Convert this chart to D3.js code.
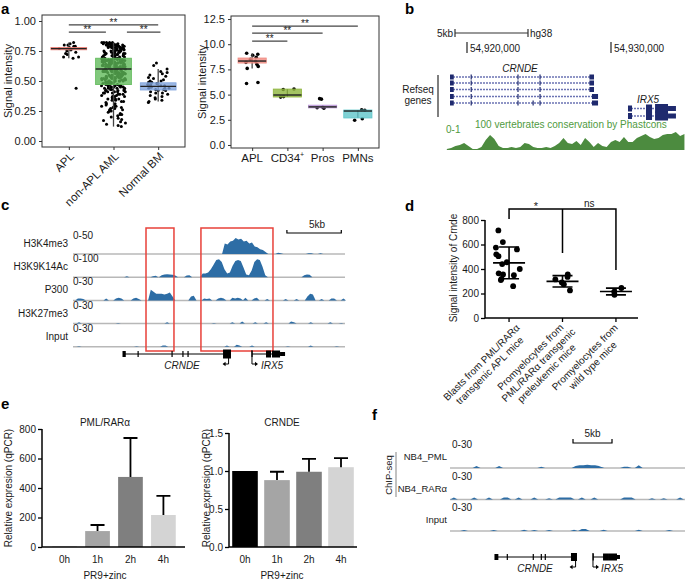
<!DOCTYPE html>
<html>
<head>
<meta charset="utf-8">
<script src="https://cdn.jsdelivr.net/npm/d3@7/dist/d3.min.js"></script>
<style>
html,body{margin:0;padding:0;background:#fff;}
svg{display:block;font-family:"Liberation Sans",Arial,Helvetica,sans-serif;}
</style>
</head>
<body>
<svg id="fig" width="685" height="583"></svg>
<script>
// ================= DATA =================
// ---- Panel a (left)
const aLeftCats = ["APL","non-APL AML","Normal BM"];
const aLeftAPL = [0.82,0.81,0.80,0.80,0.79,0.79,0.78,0.78,0.77,0.77,0.76,0.76,0.75,0.74,0.73,0.72,0.70,0.70,0.69,0.44];
const aLeftNonAPL = [
0.81,0.79,0.82,0.76,0.73,0.80,0.71,0.78,0.75,0.81,0.72,0.77,0.80,0.74,0.79,0.70,0.82,0.76,0.78,0.73,0.81,0.75,0.71,0.79,0.77,
0.80,0.72,0.74,0.78,0.82,0.76,0.70,0.81,0.73,0.79,0.75,0.77,0.80,0.71,0.78,0.74,0.82,0.76,0.72,0.79,0.81,0.73,0.77,0.70,0.80,
0.75,0.78,0.74,0.81,0.72,0.79,0.76,0.82,0.71,0.77,0.80,0.73,0.78,0.75,0.81,0.70,0.79,0.74,0.76,0.80,0.72,0.78,0.77,0.81,0.73,
0.69,0.64,0.61,0.67,0.63,0.68,0.60,0.66,0.62,0.65,0.69,0.61,0.67,0.64,0.68,0.62,0.66,0.60,0.65,0.63,0.69,0.67,0.61,0.64,0.68,
0.62,0.66,0.63,0.60,0.65,0.69,0.64,0.67,0.61,0.68,0.63,0.66,0.62,0.65,0.60,0.69,0.64,0.67,0.61,0.68,0.62,0.66,0.63,0.65,0.60,
0.69,0.64,0.67,0.61,0.68,0.63,0.66,0.62,0.65,0.60,0.69,0.64,0.67,0.61,0.68,0.62,0.66,0.63,0.65,0.64,0.67,0.61,0.69,0.62,0.66,
0.59,0.53,0.49,0.56,0.51,0.58,0.47,0.55,0.52,0.57,0.50,0.54,0.48,0.59,0.56,0.52,0.58,0.49,0.55,0.51,0.57,0.53,0.48,0.59,0.54,
0.50,0.56,0.52,0.58,0.47,0.55,0.51,0.57,0.53,0.49,0.59,0.54,0.50,0.56,0.52,0.58,0.48,0.55,0.51,0.57,0.53,0.49,0.59,0.54,0.50,
0.56,0.52,0.58,0.47,0.55,0.51,0.57,0.53,0.48,0.59,0.54,0.50,0.56,0.52,0.58,0.49,0.55,0.51,0.57,0.53,0.50,0.54,0.56,0.52,0.58,
0.46,0.41,0.37,0.44,0.33,0.45,0.39,0.42,0.35,0.46,0.40,0.31,0.43,0.38,0.45,0.34,0.41,0.46,0.36,0.44,0.39,0.32,0.42,0.45,0.37,
0.40,0.46,0.35,0.43,0.30,0.41,0.44,0.38,0.45,0.33,0.42,0.46,0.36,0.40,0.43,0.34,0.39,0.45,0.31,0.44,0.37,0.41,0.46,0.35,0.42,
0.29,0.26,0.22,0.28,0.19,0.25,0.14,0.27,0.21,0.29,0.17,0.24,0.12,0.28,0.20,0.26,0.15,0.23,0.29,0.18,0.13,0.25,0.27,0.16,0.22];
const aLeftNormal = [0.65,0.63,0.60,0.58,0.57,0.56,0.55,0.54,0.53,0.52,0.51,0.50,0.50,0.49,0.49,0.48,0.48,0.47,0.47,0.46,0.46,0.46,
0.45,0.45,0.45,0.44,0.44,0.44,0.43,0.43,0.42,0.42,0.41,0.40,0.40,0.39,0.38,0.37,0.36,0.35,0.34,0.33,0.32];
const aLeftQ1 = [0.76,0.47,0.425];
const aLeftMed = [0.77,0.60,0.455];
const aLeftQ3 = [0.78,0.69,0.485];
const aLeftLo = [0.69,0.12,0.33];
const aLeftHi = [0.82,0.82,0.60];
const aLeftColors = ["#ec7b71","#5db957","#7fa3dd"];
const aLeftTicks = [0,0.25,0.5,0.75,1.0];
const aLeftSig = [[0,2,0.967],[0,0.83,0.908],[1.3,2.05,0.908]];

// ---- Panel a (right)
const aRightCats = ["APL","CD34","Pros","PMNs"];
const aRightAPL = [9.1,9.0,8.9,8.7,8.5,8.3,8.2,8.0,7.8,7.6,6.2,6.1];
const aRightCD34 = [5.55,5.5,4.8,4.75];
const aRightPros = [4.6,4.55,3.75,3.7,3.65];
const aRightPMNs = [3.5,3.45,2.6,2.45];
const aRightQ1 = [8.13,4.76,3.68,2.68];
const aRightMed = [8.33,4.96,3.78,3.37];
const aRightQ3 = [8.63,5.55,3.95,3.47];
const aRightLo = [7.6,4.76,3.68,2.68];
const aRightHi = [9.1,5.55,3.95,3.47];
const aRightColors = ["#f08a80","#8db53c","#b893d6","#5fc6c9"];
const aRightTicks = [0,2.5,5,7.5,10,12.5];
const aRightSig = [[0,3,11.8],[0,2,11.1],[0,1,10.3]];

// ---- Panel b (genomic kb relative to 54,920,000)
const bCoordTicks = [0,10];
const bCoordLabels = ["54,920,000","54,930,000"];
const bCrndeTranscripts = [
  [[-1.18,-0.92],[0.25,0.32],[3.5,3.57],[5.03,5.1],[8.5,8.82]],
  [[-1.18,-0.92],[0.25,0.32],[3.5,3.57],[5.03,5.1],[8.5,8.82]],
  [[-1.18,-0.92],[0.25,0.32],[3.5,3.57],[5.03,5.1],[8.5,8.82]],
  [[-1.18,-0.92],[0.25,0.32],[3.5,3.57],[5.03,5.1],[8.68,9.1]],
  [[-1.18,-0.92],[0.25,0.32],[3.5,3.57],[4.55,4.62],[5.03,5.1],[8.68,9.1]]];
const bIrx5Exons = [[11.18,11.46,6],[12.43,12.85,8],[13.06,13.96,9],[13.96,14.51,5]];
const bConsStart = -1.4, bConsStep = 0.3;
const bConservation = [0.05,0.1,0.2,0.25,0.35,0.2,0.05,0.05,0.15,0.5,0.75,0.55,0.2,0.1,0.1,0.15,0.1,0.15,0.35,0.3,
0.15,0.1,0.1,0.15,0.1,0.2,0.35,0.6,0.35,0.3,0.45,0.25,0.6,0.4,0.15,0.35,0.2,0.15,0.4,0.5,
0.4,0.65,0.4,0.4,0.6,0.7,0.8,0.65,0.55,0.6,0.75,0.8,0.8,0.9,0.7,0.8];

// ---- Panel c (kb, 0.25 kb steps)
const cTrackNames = ["H3K4me3","H3K9K14Ac","P300","H3K27me3","Input"];
const cTrackScales = ["0-50","0-100","0-30","0-30","0-30"];
const cTrackMax = [50,100,30,30,30];
const cH3K4me3 = [[13.7,[0,26,24,31,33,40,36,38,31,33,26,29,19,17,12,10,5,0]],[18.6,[0,3,2,0]],[21.4,[0,2,2,0]],[22.5,[0,2,0]]];
const cH3K9K14Ac = [[4.7,[0,5,0]],[7.1,[0,5,7,0]],[7.9,[0,10,14,15,14,12,8,0]],[10.2,[0,8,10,0]],
  [11.67,[0,19,19,24,40,62,86,90,76,40,19,24,57,81,86,81,48,14,10,33,76,90,86,52,10,0]],[21.0,[0,10,14,12,0]]];
const cP300 = [[0.2,[0,3,3,2,0]],[2.8,[0,3,0]],[3.7,[0,3,4,3,0]],[5.3,[0,3,4,2,0]],[6.9,[0,16,13,10,10,10,9,10,12,6,0]],
  [10.6,[0,6,7,0]],[11.8,[0,3,2,3,0]],[13.1,[0,3,4,3,0]],[14.4,[0,4,3,4,3,0]],[15.6,[0,4,0]],[16.4,[0,3,4,0]],
  [17.6,[0,2,0]],[19.3,[0,2,0]],[20.3,[0,2,0]],[21.3,[0,6,10,9,0]],[22.6,[0,2,0]],[23.5,[0,3,3,0]],[24.6,[0,3,0]]];
const cH3K27me3 = [[0.3,[0,2,0]],[1.2,[0,1,0]],[3.9,[0,1,0]],[8.4,[0,2,0]],[12.7,[0,1,0]],[14.4,[0,2,0]],[15.3,[0,3,0]],
  [16.5,[0,2,0]],[17.5,[0,2,0]],[19.8,[0,3,2,0]],[21.6,[0,2,0]],[23.4,[0,2,0]],[24.4,[0,1,0]]];
const cInput = [[0.3,[0,1,0]],[5.6,[0,1,0]],[8.0,[0,2,2,0]],[13.9,[0,2,0]],[14.8,[0,3,2,0]],[16.2,[0,2,0]],[19.5,[0,1,0]],[21.6,[0,2,0]],[24.0,[0,1,0]]];
const cRedBoxes = [[6.71,9.28],[11.76,18.38]];
const cScaleBar = [19.66,24.66];
const cCrndeExons = [[4.55,4.85,6],[5.93,6.02,6],[9.05,9.14,6],[10.05,10.14,6],[10.52,10.61,6],[13.79,14.52,9]];
const cCrndeSpan = [4.6,14.5];
const cIrx5Exons = [[16.4,16.5,6],[17.74,18.2,7],[18.29,19.03,7],[19.03,19.49,4]];
const cIrx5Span = [16.45,19.49];

// ---- Panel d
const dCats = [["Blasts from PML/RARα","transgenic APL mice"],["Promyelocytes from","PML/RARα transgenic","preleukemic mice"],["Promyelocytes from","wild type mice"]];
const dGroup1 = [715,620,575,560,520,505,455,440,400,365,355,350,320,310,260];
const dGroup2 = [355,335,315,290,275,225];
const dGroup3 = [245,215,190];
const dTicks = [0,200,400,600,800];
const dBracketTop = 890;
const dBracketLegs = [808,530,392];

// ---- Panel e
const eCats = ["0h","1h","2h","4h"];
const eColors = ["#000000","#a5a5a5","#7f7f7f","#d4d4d4"];
const ePMLVals = [1,108,475,217];
const ePMLSD = [0,41,264,129];
const ePMLTicks = [0,200,400,600,800];
const eCRNDEVals = [1.0,0.88,0.99,1.05];
const eCRNDESD = [0,0.11,0.17,0.12];
const eCRNDETicks = [0,0.5,1.0,1.5];

// ---- Panel f (kb, 0.5 kb steps)
const fTrackNames = ["NB4_PML","NB4_RARα","Input"];
const fPML = [[2.9,[0,3,0]],[5.8,[0,3,0]],[11.2,[0,2,0]],[15.6,[0,3,4,4,5,4,4,3,0]],[18.8,[0,2,0]],[21.8,[0,2,2,0]],[23.7,[0,4,0]]];
const fRARa = [[0.0,[0,3,0]],[2.6,[0,3,0]],[4.5,[0,3,0]],[6.4,[0,3,3,0]],[8.3,[0,3,0]],[10.3,[0,3,0]],[12.2,[0,2,0]],
  [13.5,[0,3,3,3,3,0]],[16.4,[0,3,0]],[18.0,[0,3,0]],[21.8,[0,3,3,3,0]],[25.4,[0,2,0]],[26.9,[0,2,0]],[29.0,[0,3,0]]];
const fInput = [[1.3,[0,1.5,0]],[5.1,[0,1.5,0]],[9.0,[0,2,0]],[10.3,[0,1.5,0]],[12.2,[0,1.5,0]],[15.4,[0,2,0]],[16.4,[0,3,3,0]],[19.2,[0,2,0]],[23.7,[0,2,0]],[27.6,[0,1.5,0]]];
const fScaleBar = [15.77,20.77];
const fCrndeExons = [[5.7,6.2,6],[7.27,7.37,6],[10.6,10.7,6],[11.63,11.73,6],[12.14,12.24,6],[15.51,16.28,8]];
const fCrndeSpan = [5.77,16.2];
const fIrx5Exons = [[18.28,18.4,7],[19.62,20.26,7],[20.26,21.41,7],[21.41,21.79,4]];
const fIrx5Span = [18.33,21.79];

// ================= DRAW =================
const svg = d3.select("#fig");
const TXT = "#1a1a1a";
function jit(i, seed){ const v = Math.sin((i+1)*12.9898 + seed*78.233)*43758.5453; return (v - Math.floor(v)) - 0.5; }
function label(t,x,y){ svg.append("text").attr("x",x).attr("y",y).attr("font-size",15).attr("font-weight","bold").attr("fill","#000").text(t); }
function styleAxis(g, fs){ g.select(".domain").remove(); g.selectAll("text").attr("font-size",fs).attr("fill",TXT).attr("font-family",null); g.selectAll("line").attr("stroke","#333"); g.attr("font-family",null); }

label("a",1,14); label("b",405,14); label("c",1,210); label("d",405,211); label("e",1,409); label("f",372,420);

// ---------- Panel a left
(function(){
  const L=42,R=185,T=15,B=147;
  const g = svg.append("g");
  const x = d3.scalePoint().domain(aLeftCats).range([L,R]).padding(0.6);
  const y = d3.scaleLinear().domain([-0.05,1.05]).range([B,T]);
  const st = x.step(), bw = st*0.8;
  g.append("g").attr("transform",`translate(${L},0)`).call(d3.axisLeft(y).tickValues(aLeftTicks).tickFormat(d3.format(".2f")).tickSize(3).tickPadding(3)).call(s=>styleAxis(s,11));
  g.append("g").attr("transform",`translate(0,${B})`).call(d3.axisBottom(x).tickSize(3).tickFormat("")).call(s=>styleAxis(s,11));
  const groups = [aLeftAPL,aLeftNonAPL,aLeftNormal];
  const jw = [20,24,22];
  groups.forEach((arr,gi)=>{
    const cx = x(aLeftCats[gi]);
    g.append("g").selectAll("circle").data(arr).join("circle")
      .attr("cx",(d,i)=>cx + jit(i,gi+1)*jw[gi]).attr("cy",d=>y(d)).attr("r",1.5).attr("fill","#000");
    g.append("line").attr("x1",cx).attr("x2",cx).attr("y1",y(aLeftLo[gi])).attr("y2",y(aLeftHi[gi])).attr("stroke","#444").attr("stroke-width",1.3);
    g.append("rect").attr("x",cx-bw/2).attr("width",bw).attr("y",y(aLeftQ3[gi])).attr("height",y(aLeftQ1[gi])-y(aLeftQ3[gi]))
      .attr("fill",aLeftColors[gi]).attr("fill-opacity",0.78).attr("stroke",aLeftColors[gi]).attr("stroke-width",0.8);
    g.append("line").attr("x1",cx-bw/2).attr("x2",cx+bw/2).attr("y1",y(aLeftMed[gi])).attr("y2",y(aLeftMed[gi])).attr("stroke","#222").attr("stroke-width",1.4);
  });
  g.append("rect").attr("x",L).attr("y",T).attr("width",R-L).attr("height",B-T).attr("fill","none").attr("stroke","#333").attr("stroke-width",1);
  aLeftSig.forEach(s=>{
    const x1 = x(aLeftCats[0])+s[0]*st, x2 = x(aLeftCats[0])+s[1]*st, yy=y(s[2]);
    g.append("line").attr("x1",x1).attr("x2",x2).attr("y1",yy).attr("y2",yy).attr("stroke","#444").attr("stroke-width",1.3);
    g.append("text").attr("x",(x1+x2)/2).attr("y",yy+1).attr("text-anchor","middle").attr("font-size",10).attr("fill","#222").text("**");
  });
  aLeftCats.forEach(c=>{
    g.append("text").attr("transform",`translate(${x(c)+6},${B+10}) rotate(-45)`).attr("text-anchor","end").attr("font-size",11.5).attr("fill",TXT).text(c);
  });
  g.append("text").attr("transform",`translate(12,${(T+B)/2}) rotate(-90)`).attr("text-anchor","middle").attr("font-size",11).attr("fill",TXT).text("Signal intensity");
})();

// ---------- Panel a right
(function(){
  const L=231,R=379,T=16,B=148;
  const g = svg.append("g");
  const x = d3.scalePoint().domain(aRightCats).range([L,R]).padding(0.6);
  const y = d3.scaleLinear().domain([-0.3,12.8]).range([B,T]);
  const st = x.step(), bw = st*0.8;
  g.append("g").attr("transform",`translate(${L},0)`).call(d3.axisLeft(y).tickValues(aRightTicks).tickFormat(d3.format(".1f")).tickSize(3).tickPadding(3)).call(s=>styleAxis(s,11));
  g.append("g").attr("transform",`translate(0,${B})`).call(d3.axisBottom(x).tickSize(3).tickFormat("")).call(s=>styleAxis(s,11));
  const groups = [aRightAPL,aRightCD34,aRightPros,aRightPMNs];
  groups.forEach((arr,gi)=>{
    const cx = x(aRightCats[gi]);
    g.append("g").selectAll("circle").data(arr).join("circle")
      .attr("cx",(d,i)=>cx + jit(i,gi+7)*14).attr("cy",d=>y(d)).attr("r",1.8).attr("fill","#000");
    g.append("line").attr("x1",cx).attr("x2",cx).attr("y1",y(aRightLo[gi])).attr("y2",y(aRightHi[gi])).attr("stroke","#444").attr("stroke-width",1.3);
    g.append("rect").attr("x",cx-bw/2).attr("width",bw).attr("y",y(aRightQ3[gi])).attr("height",y(aRightQ1[gi])-y(aRightQ3[gi]))
      .attr("fill",aRightColors[gi]).attr("fill-opacity",0.8).attr("stroke",aRightColors[gi]).attr("stroke-width",0.8);
    g.append("line").attr("x1",cx-bw/2).attr("x2",cx+bw/2).attr("y1",y(aRightMed[gi])).attr("y2",y(aRightMed[gi])).attr("stroke","#222").attr("stroke-width",1.4);
  });
  g.append("rect").attr("x",L).attr("y",T).attr("width",R-L).attr("height",B-T).attr("fill","none").attr("stroke","#333").attr("stroke-width",1);
  aRightSig.forEach(s=>{
    const x1 = x(aRightCats[0])+s[0]*st, x2 = x(aRightCats[0])+s[1]*st, yy=y(s[2]);
    g.append("line").attr("x1",x1).attr("x2",x2).attr("y1",yy).attr("y2",yy).attr("stroke","#444").attr("stroke-width",1.3);
    g.append("text").attr("x",(x1+x2)/2).attr("y",yy+1).attr("text-anchor","middle").attr("font-size",10).attr("fill","#222").text("**");
  });
  aRightCats.forEach((c,i)=>{
    const t = g.append("text").attr("x",x(c)).attr("y",B+14).attr("text-anchor","middle").attr("font-size",11.5).attr("fill",TXT).text(c);
    if(c==="CD34") t.append("tspan").attr("font-size",7).attr("dy",-5).text("+");
  });
  g.append("text").attr("transform",`translate(206,${(T+B)/2}) rotate(-90)`).attr("text-anchor","middle").attr("font-size",11).attr("fill",TXT).text("Signal intensity");
})();

// ---------- Panel b
(function(){
  const g = svg.append("g");
  const x = d3.scaleLinear().domain([0,10]).range([467,611]);
  const navy = "#1f2a6e";
  g.append("text").attr("x",453).attr("y",37).attr("text-anchor","end").attr("font-size",10).attr("fill",TXT).text("5kb");
  g.append("path").attr("d",`M455,29V37M455,33H528M528,29V37`).attr("stroke","#333").attr("stroke-width",1.2).attr("fill","none");
  g.append("text").attr("x",530).attr("y",37).attr("font-size",10).attr("fill",TXT).text("hg38");
  bCoordTicks.forEach((k,i)=>{
    g.append("line").attr("x1",x(k)).attr("x2",x(k)).attr("y1",42).attr("y2",53).attr("stroke","#222").attr("stroke-width",1.2);
    g.append("text").attr("x",x(k)+3).attr("y",52).attr("font-size",10).attr("fill",TXT).text(bCoordLabels[i]);
  });
  g.append("text").attr("x",520).attr("y",72).attr("text-anchor","middle").attr("font-size",10).attr("font-style","italic").attr("fill",TXT).text("CRNDE");
  const rowY = [77,83,89.5,96.5,103];
  bCrndeTranscripts.forEach((ex,ri)=>{
    const yy = rowY[ri];
    const s = ex[0][0], e = ex[ex.length-1][1];
    g.append("line").attr("x1",x(s)).attr("x2",x(e)).attr("y1",yy).attr("y2",yy).attr("stroke","#6b73b3").attr("stroke-width",1.4).attr("stroke-dasharray","2,1");
    ex.forEach(([a,b])=>{
      const w = Math.max(1.2,x(b)-x(a));
      g.append("rect").attr("x",x(a)).attr("y",yy-2.5).attr("width",w).attr("height",5).attr("fill",navy);
    });
  });
  g.append("text").attr("x",648).attr("y",103).attr("text-anchor","middle").attr("font-size",10).attr("font-style","italic").attr("fill",TXT).text("IRX5");
  [108.5,116].forEach(yy=>{
    g.append("line").attr("x1",x(bIrx5Exons[0][0])).attr("x2",x(bIrx5Exons[bIrx5Exons.length-1][1])).attr("y1",yy).attr("y2",yy).attr("stroke","#6b73b3").attr("stroke-width",1.4).attr("stroke-dasharray","2,1");
    bIrx5Exons.forEach(([a,b,h])=>{
      g.append("rect").attr("x",x(a)).attr("y",yy-h/2).attr("width",x(b)-x(a)).attr("height",h).attr("fill",navy);
    });
  });
  g.append("text").attr("x",418).attr("y",93).attr("text-anchor","middle").attr("font-size",10).attr("fill",TXT).text("Refseq");
  g.append("text").attr("x",418).attr("y",104).attr("text-anchor","middle").attr("font-size",10).attr("fill",TXT).text("genes");
  g.append("line").attr("x1",438).attr("x2",438).attr("y1",75).attr("y2",117).attr("stroke","#555").attr("stroke-width",1.5);
  const green = "#4c8b3f";
  g.append("text").attr("x",446).attr("y",133).attr("font-size",10).attr("fill","#4f9a41").text("0-1");
  g.append("text").attr("x",475).attr("y",128).attr("font-size",10).attr("fill","#4f9a41").text("100 vertebrates conservation by Phastcons");
  const yc = d3.scaleLinear().domain([0,1]).range([150,130]);
  const pts = bConservation.map((v,i)=>[bConsStart+i*bConsStep,v]);
  g.append("path").attr("d",d3.area().x(d=>x(d[0])).y0(150).y1(d=>yc(d[1]))(pts)).attr("fill",green);
})();

// ---------- helpers
function drawTrack(g, xs, base, height, max, peaks, step, color){
  const ys = d3.scaleLinear().domain([0,max]).range([base, base-height]);
  const area = d3.area().x(d=>xs(d[0])).y0(base).y1(d=>ys(d[1]));
  peaks.forEach(([start,vals])=>{
    const pts = vals.map((v,i)=>[start+i*step,v]);
    g.append("path").attr("d",area(pts)).attr("fill",color);
  });
}
function geneModel(g, xs, y, span, exons, arrowDir, arrowAt){
  g.append("line").attr("x1",xs(span[0])).attr("x2",xs(span[1])).attr("y1",y).attr("y2",y).attr("stroke","#000").attr("stroke-width",1);
  exons.forEach(([a,b,h])=>{
    g.append("rect").attr("x",xs(a)).attr("y",y-h/2).attr("width",Math.max(1.2,xs(b)-xs(a))).attr("height",h).attr("fill","#000");
  });
  const ax = xs(arrowAt);
  const d = arrowDir<0 ? `M${ax},${y+3}V${y+10}H${ax-5}` : `M${ax},${y-4}V${y+10}H${ax+5}`;
  g.append("path").attr("d",d).attr("fill","none").attr("stroke","#000").attr("stroke-width",1);
  const tx = arrowDir<0 ? ax-6 : ax+6;
  g.append("path").attr("d", arrowDir<0 ? `M${tx},${y+10}l3,-2.2v4.4z` : `M${tx},${y+10}l-3,-2.2v4.4z`).attr("fill","#000");
}

// ---------- Panel c
(function(){
  const g = svg.append("g");
  const x = d3.scaleLinear().domain([0,25]).range([73,345]);
  const blue = "#2d6da5";
  const tracks = [cH3K4me3,cH3K9K14Ac,cP300,cH3K27me3,cInput];
  cTrackNames.forEach((name,i)=>{
    const base = 254 + i*23.2;
    g.append("line").attr("x1",73).attr("x2",345).attr("y1",base).attr("y2",base).attr("stroke","#b8b8b8").attr("stroke-width",1.5);
    drawTrack(g, x, base, 20, cTrackMax[i], tracks[i], 0.25, blue);
    g.append("text").attr("x",68).attr("y",base-7).attr("text-anchor","end").attr("font-size",10).attr("fill",TXT).text(name);
    g.append("text").attr("x",73).attr("y",base-15).attr("font-size",10).attr("fill",TXT).text(cTrackScales[i]);
  });
  cRedBoxes.forEach(([a,b])=>{
    g.append("rect").attr("x",x(a)).attr("y",228).attr("width",x(b)-x(a)).attr("height",123).attr("fill","none").attr("stroke","#e8413a").attr("stroke-width",1.5);
  });
  const s0=x(cScaleBar[0]), s1=x(cScaleBar[1]);
  g.append("path").attr("d",`M${s0},230V233H${s1}V230`).attr("fill","none").attr("stroke","#000").attr("stroke-width",1.2);
  g.append("text").attr("x",(s0+s1)/2+3).attr("y",228).attr("text-anchor","middle").attr("font-size",10).attr("fill",TXT).text("5kb");
  geneModel(g, x, 354, cCrndeSpan, cCrndeExons, -1, 14.3);
  geneModel(g, x, 354, cIrx5Span, cIrx5Exons, 1, 16.45);
  g.append("text").attr("x",182).attr("y",369).attr("text-anchor","middle").attr("font-size",10).attr("font-style","italic").attr("fill",TXT).text("CRNDE");
  g.append("text").attr("x",272).attr("y",369).attr("text-anchor","middle").attr("font-size",10).attr("font-style","italic").attr("fill",TXT).text("IRX5");
})();

// ---------- Panel d
(function(){
  const g = svg.append("g");
  const x = d3.scalePoint().domain([0,1,2]).range([485,640]).padding(0.45);
  const y = d3.scaleLinear().domain([0,800]).range([318,220]);
  g.append("g").attr("transform","translate(485,0)").call(d3.axisLeft(y).tickValues(dTicks).tickSize(4).tickPadding(2)).call(s=>styleAxis(s,10)).call(s=>s.selectAll("line").attr("stroke","#000").attr("stroke-width",1.3));
  g.append("line").attr("x1",485).attr("x2",485).attr("y1",220).attr("y2",318).attr("stroke","#000").attr("stroke-width",1.5);
  g.append("line").attr("x1",485).attr("x2",638).attr("y1",318).attr("y2",318).attr("stroke","#000").attr("stroke-width",1.5);
  const groups = [dGroup1,dGroup2,dGroup3];
  const jw = [28,18,14];
  const labDx = [13,11,4];
  groups.forEach((arr,gi)=>{
    const cx = x(gi);
    g.append("line").attr("x1",cx).attr("x2",cx).attr("y1",318).attr("y2",322).attr("stroke","#000").attr("stroke-width",1.3);
    g.append("g").selectAll("circle").data(arr).join("circle").attr("cx",(d,i)=>cx+jit(i,gi+20)*jw[gi]).attr("cy",d=>y(d)).attr("r",2.9).attr("fill","#000");
    const m = d3.mean(arr), sd = d3.deviation(arr);
    g.append("line").attr("x1",cx-16).attr("x2",cx+16).attr("y1",y(m)).attr("y2",y(m)).attr("stroke","#000").attr("stroke-width",1.6);
    g.append("path").attr("d",`M${cx},${y(m-sd)}V${y(m+sd)}M${cx-10},${y(m-sd)}H${cx+10}M${cx-10},${y(m+sd)}H${cx+10}`).attr("stroke","#000").attr("stroke-width",1.6).attr("fill","none");
    const lines = dCats[gi], n = lines.length;
    const t = g.append("text").attr("transform",`translate(${cx+labDx[gi]},330) rotate(-45)`).attr("font-size",10).attr("fill",TXT);
    const spans = lines.map((ln,li)=>t.append("tspan").attr("text-anchor","middle").attr("y",(li-(n-1)/2)*11.5+3.5).text(ln));
    const W = d3.max(spans, s=>s.node().getComputedTextLength());
    spans.forEach(s=>s.attr("x",-W/2));
  });
  const yt = y(dBracketTop);
  g.append("path").attr("d",`M${x(0)},${y(dBracketLegs[0])}V${yt}H${x(2)}V${y(dBracketLegs[2])}M${x(1)},${yt}V${y(dBracketLegs[1])}`).attr("fill","none").attr("stroke","#000").attr("stroke-width",1.5);
  g.append("text").attr("x",(x(0)+x(1))/2).attr("y",yt+1).attr("text-anchor","middle").attr("font-size",11).attr("fill","#222").text("*");
  g.append("text").attr("x",(x(1)+x(2))/2).attr("y",yt-2).attr("text-anchor","middle").attr("font-size",10).attr("fill",TXT).text("ns");
  g.append("text").attr("transform",`translate(457,268) rotate(-90)`).attr("text-anchor","middle").attr("font-size",10).attr("fill",TXT).text("Signal intensity of Crnde");
})();

// ---------- Panel e
function barChart(o){
  const g = svg.append("g");
  const x = d3.scaleBand().domain(eCats).range(o.xr).paddingInner(o.pi).paddingOuter(o.po);
  const y = d3.scaleLinear().domain(o.yd).range([547,o.ytop]);
  g.append("g").attr("transform",`translate(${o.ax},0)`).call(d3.axisLeft(y).tickValues(o.ticks).tickFormat(o.fmt).tickSize(4).tickPadding(2)).call(s=>styleAxis(s,10)).call(s=>s.selectAll("line").attr("stroke","#000").attr("stroke-width",1.3));
  eCats.forEach((c,i)=>{
    const bx = x(c), bw = x.bandwidth(), v=o.vals[i], sd=o.sds[i];
    g.append("rect").attr("x",bx).attr("width",bw).attr("y",y(v)).attr("height",y(0)-y(v)).attr("fill",eColors[i]);
    if(sd>0){
      const cx = bx+bw/2;
      g.append("path").attr("d",`M${cx},${y(v)}V${y(v+sd)}M${cx-7},${y(v+sd)}H${cx+7}`).attr("stroke","#000").attr("stroke-width",1.8).attr("fill","none");
    }
    g.append("text").attr("x",bx+bw/2).attr("y",563).attr("text-anchor","middle").attr("font-size",10).attr("fill",TXT).text(c);
  });
  g.append("line").attr("x1",o.ax).attr("x2",o.ax).attr("y1",o.ytop).attr("y2",547).attr("stroke","#000").attr("stroke-width",1.5);
  g.append("line").attr("x1",o.ax).attr("x2",o.xend).attr("y1",547).attr("y2",547).attr("stroke","#000").attr("stroke-width",1.5);
  g.append("text").attr("x",o.titleX).attr("y",426).attr("text-anchor","middle").attr("font-size",10).attr("fill",TXT).text(o.title);
  g.append("text").attr("x",o.titleX).attr("y",579).attr("text-anchor","middle").attr("font-size",10).attr("fill",TXT).text("PR9+zinc");
  g.append("text").attr("transform",`translate(${o.ylx},488) rotate(-90)`).attr("text-anchor","middle").attr("font-size",10).attr("fill",TXT).text("Relative expresion (qPCR)");
}
barChart({xr:[44,184],pi:0.25,po:0.25,ax:42,xend:185,yd:[0,800],ytop:429,ticks:ePMLTicks,fmt:d3.format("d"),vals:ePMLVals,sds:ePMLSD,title:"PML/RARα",titleX:105,ylx:12});
barChart({xr:[229,357],pi:0.2,po:0.1,ax:229,xend:357,yd:[0,1.5],ytop:433,ticks:eCRNDETicks,fmt:d3.format(".1f"),vals:eCRNDEVals,sds:eCRNDESD,title:"CRNDE",titleX:282,ylx:210});

// ---------- Panel f
(function(){
  const g = svg.append("g");
  const x = d3.scaleLinear().domain([0,30]).range([450,684]);
  const blue = "#2d6da5";
  const tracks = [fPML,fRARa,fInput];
  const bases = [468,499.5,531];
  fTrackNames.forEach((name,i)=>{
    const base = bases[i];
    g.append("line").attr("x1",450).attr("x2",685).attr("y1",base).attr("y2",base).attr("stroke","#b8b8b8").attr("stroke-width",1.5);
    drawTrack(g, x, base, 20, 30, tracks[i], 0.5, blue);
    g.append("text").attr("x",447).attr("y",base-8).attr("text-anchor","end").attr("font-size",9.5).attr("fill",TXT).text(name);
    g.append("text").attr("x",452).attr("y",base-20).attr("font-size",10).attr("fill",TXT).text("0-30");
  });
  g.append("line").attr("x1",396).attr("x2",396).attr("y1",452).attr("y2",497).attr("stroke","#999").attr("stroke-width",1.2);
  g.append("text").attr("transform","translate(392,475) rotate(-90)").attr("text-anchor","middle").attr("font-size",9.5).attr("fill",TXT).text("ChIP-seq");
  const s0=x(fScaleBar[0]), s1=x(fScaleBar[1]);
  g.append("path").attr("d",`M${s0},439V443H${s1}V439`).attr("fill","none").attr("stroke","#000").attr("stroke-width",1.2);
  g.append("text").attr("x",(s0+s1)/2).attr("y",437).attr("text-anchor","middle").attr("font-size",10).attr("fill",TXT).text("5kb");
  geneModel(g, x, 557, fCrndeSpan, fCrndeExons, -1, 16.1);
  geneModel(g, x, 557, fIrx5Span, fIrx5Exons, 1, 18.33);
  g.append("text").attr("x",535).attr("y",572).attr("text-anchor","middle").attr("font-size",10).attr("font-style","italic").attr("fill",TXT).text("CRNDE");
  g.append("text").attr("x",612).attr("y",572).attr("text-anchor","middle").attr("font-size",10).attr("font-style","italic").attr("fill",TXT).text("IRX5");
})();
</script>
</body>
</html>
